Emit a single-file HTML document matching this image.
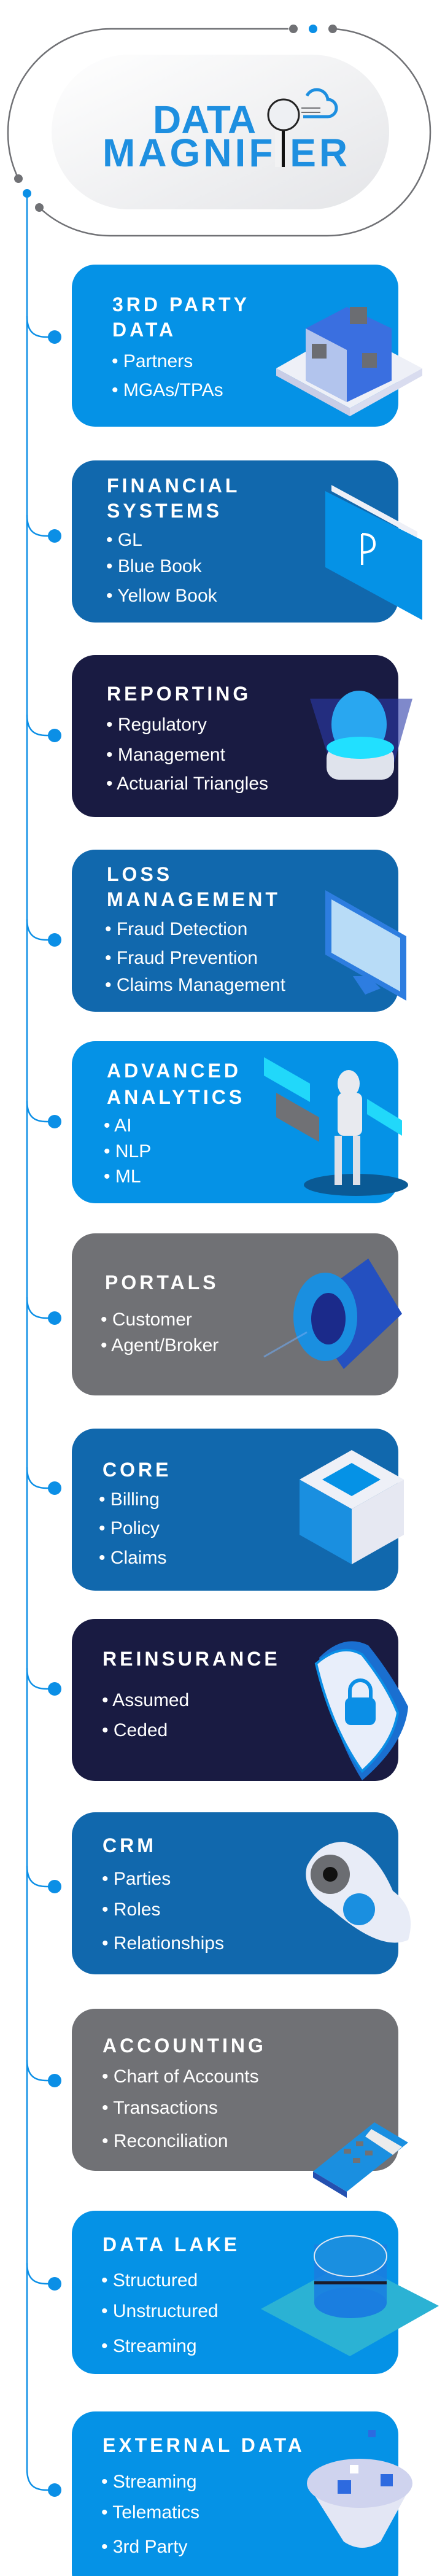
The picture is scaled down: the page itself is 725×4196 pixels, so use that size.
<!DOCTYPE html>
<html><head><meta charset="utf-8"><style>
html,body{margin:0;padding:0;background:#fff;}
svg{display:block;}
.t{font-family:"Liberation Sans",sans-serif;font-weight:bold;font-size:32px;letter-spacing:5px;fill:#fff;}
.b{font-family:"Liberation Sans",sans-serif;font-size:30px;fill:#fff;}
</style></head><body>
<svg width="725" height="4196" viewBox="0 0 725 4196" xmlns="http://www.w3.org/2000/svg">
<defs>
<linearGradient id="pg" x1="0" y1="0" x2="1" y2="1"><stop offset="0" stop-color="#ffffff"/><stop offset="1" stop-color="#e4e5e8"/></linearGradient>
</defs>
<path d="M470 47 L181 47 A168 168 0 0 0 13 215 A168 168 0 0 0 30 291" fill="none" stroke="#707175" stroke-width="2.5"/>
<path d="M64 338 A168 168 0 0 0 181 384 L533 384 A168 168 0 0 0 701 215 A168 168 0 0 0 543 47" fill="none" stroke="#707175" stroke-width="2.5"/>
<circle cx="478" cy="47" r="7" fill="#707175"/><circle cx="510" cy="47" r="7" fill="#0b8fe6"/><circle cx="542" cy="47" r="7" fill="#707175"/>
<circle cx="30" cy="291" r="7" fill="#707175"/><circle cx="64" cy="338" r="7" fill="#707175"/>
<rect x="84" y="89" width="550" height="252" rx="126" fill="url(#pg)"/>
<text x="249" y="217" font-family="Liberation Sans,sans-serif" font-weight="bold" font-size="64" fill="#1e8fe0">DATA</text>
<text x="167" y="271" font-family="Liberation Sans,sans-serif" font-weight="bold" font-size="64" letter-spacing="5" fill="#1e8fe0">MAGNIFIER</text>
<rect x="448" y="206" width="14" height="66" fill="#f2f2f3"/>
<rect x="459" y="210" width="5" height="62" fill="#111"/>
<circle cx="462" cy="187" r="25" fill="#eef0f3" stroke="#222" stroke-width="3"/>
<path d="M494 190 h40 a14 14 0 0 0 0 -28 a18 18 0 0 0 -34 -6" fill="none" stroke="#1e8fe0" stroke-width="5"/>
<line x1="491" y1="176" x2="522" y2="176" stroke="#707175" stroke-width="2"/><line x1="491" y1="183" x2="522" y2="183" stroke="#707175" stroke-width="2"/>
<line x1="44" y1="315" x2="44" y2="4022" stroke="#0b8fe6" stroke-width="2.5"/>
<circle cx="44" cy="315" r="7" fill="#0b8fe6"/>
<g fill="none" stroke="#0b8fe6" stroke-width="2.5">
<path d="M44 515 C44 541 56 549 76 549 L89 549"/><path d="M44 839 C44 865 56 873 76 873 L89 873"/>
<path d="M44 1164 C44 1190 56 1198 76 1198 L89 1198"/><path d="M44 1497 C44 1523 56 1531 76 1531 L89 1531"/>
<path d="M44 1793 C44 1819 56 1827 76 1827 L89 1827"/><path d="M44 2113 C44 2139 56 2147 76 2147 L89 2147"/>
<path d="M44 2390 C44 2416 56 2424 76 2424 L89 2424"/><path d="M44 2717 C44 2743 56 2751 76 2751 L89 2751"/>
<path d="M44 3039 C44 3065 56 3073 76 3073 L89 3073"/><path d="M44 3355 C44 3381 56 3389 76 3389 L89 3389"/>
<path d="M44 3686 C44 3712 56 3720 76 3720 L89 3720"/><path d="M44 4022 C44 4048 56 4056 76 4056 L89 4056"/>
</g>
<g fill="#0b8fe6">
<circle cx="89" cy="549" r="11"/><circle cx="89" cy="873" r="11"/><circle cx="89" cy="1198" r="11"/><circle cx="89" cy="1531" r="11"/>
<circle cx="89" cy="1827" r="11"/><circle cx="89" cy="2147" r="11"/><circle cx="89" cy="2424" r="11"/><circle cx="89" cy="2751" r="11"/>
<circle cx="89" cy="3073" r="11"/><circle cx="89" cy="3389" r="11"/><circle cx="89" cy="3720" r="11"/><circle cx="89" cy="4056" r="11"/>
</g>
<rect x="117" y="431" width="532" height="264" rx="38" fill="#0592e6"/>
<rect x="117" y="750" width="532" height="264" rx="38" fill="#1168ad"/>
<rect x="117" y="1067" width="532" height="264" rx="38" fill="#191b42"/>
<rect x="117" y="1384" width="532" height="264" rx="38" fill="#1168ad"/>
<rect x="117" y="1696" width="532" height="264" rx="38" fill="#0592e6"/>
<rect x="117" y="2009" width="532" height="264" rx="38" fill="#707175"/>
<rect x="117" y="2327" width="532" height="264" rx="38" fill="#1168ad"/>
<rect x="117" y="2637" width="532" height="264" rx="38" fill="#191b42"/>
<rect x="117" y="2952" width="532" height="264" rx="38" fill="#1168ad"/>
<rect x="117" y="3272" width="532" height="264" rx="38" fill="#707175"/>
<rect x="117" y="3601" width="532" height="266" rx="38" fill="#0592e6"/>
<rect x="117" y="3928" width="532" height="300" rx="38" fill="#0592e6"/>
<g>
<path d="M450 600 L565 535 L688 600 L570 665 Z" fill="#eef0f7"/><path d="M450 600 L570 665 L570 678 L450 612 Z" fill="#c9cde6"/><path d="M570 665 L688 600 L688 612 L570 678Z" fill="#d9dcef"/>
<path d="M498 535 L565 500 L638 535 L638 620 L565 655 L498 620 Z" fill="#3a6fe0"/><path d="M498 535 L565 570 L565 655 L498 620Z" fill="#e6e8f2" opacity=".7"/><rect x="570" y="500" width="28" height="28" fill="#6b6d72"/><rect x="508" y="560" width="24" height="24" fill="#6b6d72"/><rect x="590" y="575" width="24" height="24" fill="#6b6d72"/>
</g>
<g><path d="M530 800 L688 880 L688 1010 L530 924 Z" fill="#0592e6"/><path d="M540 790 L680 866 L680 876 L540 800Z" fill="#eef0f7"/><path d="M590 870 v50 M590 870 q20 0 20 16 q0 14 -20 14" stroke="#fff" stroke-width="4" fill="none"/></g>
<g><path d="M505 1138 L672 1138 L640 1250 L540 1250Z" fill="#2a3aa8" opacity=".6"/><ellipse cx="585" cy="1180" rx="45" ry="55" fill="#29a7f0"/><rect x="532" y="1215" width="110" height="55" rx="20" fill="#dfe3ec"/><ellipse cx="587" cy="1218" rx="55" ry="18" fill="#21e0ff"/></g>
<g><path d="M530 1450 L662 1525 L662 1630 L530 1555Z" fill="#2d7de0"/><path d="M540 1465 L652 1528 L652 1615 L540 1552Z" fill="#b8dcf7"/><path d="M575 1590 l20 30 l25 -10 l-20 -20z" fill="#2d7de0"/></g>
<g><path d="M430 1722 L505 1765 L505 1795 L430 1752Z" fill="#21d8fa"/><path d="M450 1780 L520 1820 L520 1860 L450 1820Z" fill="#707175"/><path d="M598 1790 L655 1825 L655 1850 L598 1815Z" fill="#21d8fa"/><ellipse cx="580" cy="1930" rx="85" ry="18" fill="#0a5a95"/><rect x="550" y="1780" width="40" height="70" rx="10" fill="#e8eaef"/><ellipse cx="568" cy="1765" rx="18" ry="22" fill="#e8eaef"/><rect x="545" y="1850" width="12" height="80" fill="#dde0e8"/><rect x="575" y="1850" width="12" height="80" fill="#dde0e8"/></g>
<g><path d="M490 2130 L600 2050 L655 2140 L560 2230 Z" fill="#2450c0"/><ellipse cx="530" cy="2145" rx="52" ry="72" fill="#1a8fe0"/><ellipse cx="535" cy="2148" rx="28" ry="42" fill="#1b2a8a"/><path d="M430 2210 L500 2170" stroke="#6fa9f0" stroke-width="3" opacity=".6"/></g>
<g><path d="M488 2410 L573 2362 L658 2410 L573 2458Z" fill="#eef0f7"/><path d="M488 2410 L573 2458 L573 2548 L488 2500Z" fill="#1a8fe0"/><path d="M573 2458 L658 2410 L658 2500 L573 2548Z" fill="#e6e8f2"/><path d="M525 2410 L573 2383 L620 2410 L573 2437Z" fill="#0592e6"/></g>
<g><path d="M520 2700 Q560 2660 600 2680 Q640 2730 665 2780 Q660 2840 590 2900 Q540 2820 520 2700Z" fill="#1a6fd0"/><path d="M515 2710 Q555 2675 590 2695 Q630 2745 648 2790 Q640 2840 590 2885 Q540 2815 515 2710Z" fill="#e8eefa" stroke="#0b8fe6" stroke-width="4"/><rect x="562" y="2765" width="50" height="45" rx="10" fill="#0b8fe6"/><path d="M570 2768 v-14 a17 17 0 0 1 34 0 v14" stroke="#0b8fe6" stroke-width="6" fill="none"/></g>
<g><path d="M500 3040 Q520 3000 560 3000 Q610 3010 640 3080 Q680 3110 665 3160 Q620 3180 540 3110 Q490 3080 500 3040Z" fill="#e8ecf7"/><circle cx="538" cy="3053" r="32" fill="#6b6d72"/><circle cx="538" cy="3053" r="12" fill="#111"/><circle cx="585" cy="3110" r="26" fill="#1a8fe0"/></g>
<g><path d="M510 3537 L610 3457 L665 3490 L565 3570 Z" fill="#1a8fe0"/><path d="M510 3537 L565 3570 L565 3580 L510 3547Z" fill="#2450b0"/><path d="M605 3468 L655 3497 L640 3510 L595 3480Z" fill="#ececec"/><g fill="#707175"><rect x="560" y="3500" width="12" height="8"/><rect x="580" y="3488" width="12" height="8"/><rect x="575" y="3515" width="12" height="8"/><rect x="595" y="3503" width="12" height="8"/></g></g>
<g><path d="M425 3761 L570 3682 L715 3756 L570 3838Z" fill="#2bb2d4"/><rect x="512" y="3656" width="118" height="95" fill="#1a7ee0" opacity=".9"/><ellipse cx="571" cy="3751" rx="59" ry="25" fill="#1a7ee0"/><ellipse cx="571" cy="3675" rx="59" ry="33" fill="#1a8fe0" stroke="#dfe6f2" stroke-width="2"/><rect x="512" y="3716" width="118" height="5" fill="#1b1b2a"/></g>
<g><path d="M500 4045 L672 4045 L620 4140 Q590 4160 560 4140 Z" fill="#e3e6f4"/><ellipse cx="586" cy="4045" rx="86" ry="40" fill="#cfd3ee"/><rect x="550" y="4040" width="22" height="22" fill="#2d6ae0"/><rect x="620" y="4030" width="20" height="20" fill="#2d6ae0"/><rect x="570" y="4015" width="14" height="14" fill="#fff"/><rect x="600" y="3958" width="12" height="12" fill="#2d6ae0"/></g>
<text class="t" x="183" y="507">3RD PARTY</text><text class="t" x="183" y="548">DATA</text>
<text class="b" x="182" y="598">• Partners</text><text class="b" x="182" y="645">• MGAs/TPAs</text>

<text class="t" x="174" y="802">FINANCIAL</text><text class="t" x="174" y="843">SYSTEMS</text>
<text class="b" x="173" y="889">• GL</text><text class="b" x="173" y="932">• Blue Book</text><text class="b" x="173" y="980">• Yellow Book</text>

<text class="t" x="174" y="1141">REPORTING</text>
<text class="b" x="173" y="1190">• Regulatory</text><text class="b" x="173" y="1239">• Management</text><text class="b" x="173" y="1286">• Actuarial Triangles</text>

<text class="t" x="174" y="1435">LOSS</text><text class="t" x="174" y="1476">MANAGEMENT</text>
<text class="b" x="171" y="1523">• Fraud Detection</text><text class="b" x="171" y="1570">• Fraud Prevention</text><text class="b" x="171" y="1614">• Claims Management</text>

<text class="t" x="174" y="1755">ADVANCED</text><text class="t" x="174" y="1798">ANALYTICS</text>
<text class="b" x="169" y="1843">• AI</text><text class="b" x="169" y="1885">• NLP</text><text class="b" x="169" y="1926">• ML</text>

<text class="t" x="171" y="2100">PORTALS</text>
<text class="b" x="164" y="2159">• Customer</text><text class="b" x="164" y="2201">• Agent/Broker</text>

<text class="t" x="167" y="2405">CORE</text>
<text class="b" x="161" y="2452">• Billing</text><text class="b" x="161" y="2499">• Policy</text><text class="b" x="161" y="2547">• Claims</text>

<text class="t" x="167" y="2713">REINSURANCE</text>
<text class="b" x="166" y="2779">• Assumed</text><text class="b" x="166" y="2828">• Ceded</text>

<text class="t" x="167" y="3017">CRM</text>
<text class="b" x="166" y="3070">• Parties</text><text class="b" x="166" y="3120">• Roles</text><text class="b" x="166" y="3175">• Relationships</text>

<text class="t" x="167" y="3343">ACCOUNTING</text>
<text class="b" x="166" y="3392">• Chart of Accounts</text><text class="b" x="166" y="3443">• Transactions</text><text class="b" x="166" y="3497">• Reconciliation</text>

<text class="t" x="167" y="3667">DATA LAKE</text>
<text class="b" x="165" y="3724">• Structured</text><text class="b" x="165" y="3774">• Unstructured</text><text class="b" x="165" y="3831">• Streaming</text>

<text class="t" x="167" y="3994">EXTERNAL DATA</text>
<text class="b" x="165" y="4052">• Streaming</text><text class="b" x="165" y="4102">• Telematics</text><text class="b" x="165" y="4158">• 3rd Party</text>
</svg>
</body></html>
